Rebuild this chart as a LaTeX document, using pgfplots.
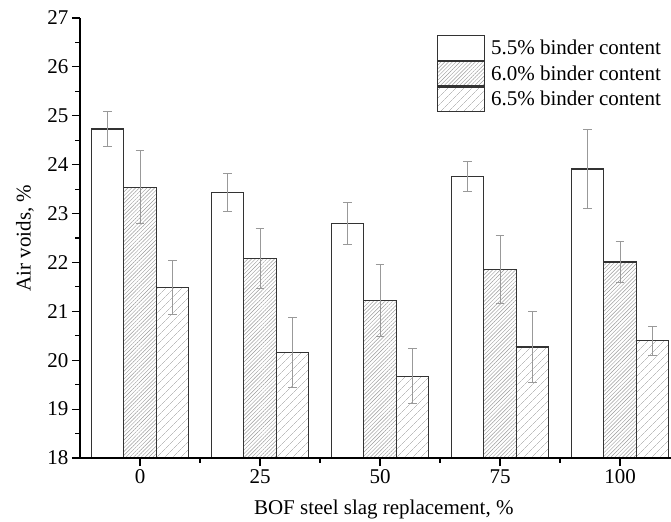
\documentclass[border=0pt]{standalone}
\usepackage{fontspec}
\setmainfont{Liberation Serif}
\usepackage{pgfplots}
\pgfplotsset{compat=1.18}
\usetikzlibrary{patterns.meta}
\definecolor{edge}{HTML}{333333}
\definecolor{errc}{HTML}{999999}
\definecolor{hatch}{HTML}{9A9A9A}
\begin{document}
\begin{tikzpicture}
\useasboundingbox (-80bp,-64bp) rectangle (591bp,458bp);
\begin{axis}[
  at={(0,0)}, anchor=south west,
  scale only axis, width=591bp, height=440bp,
  font=\fontsize{21bp}{25bp}\selectfont,
  /pgf/number format/assume math mode=true,
  xmin=-0.5, xmax=4.425, ymin=18, ymax=27,
  axis x line=bottom, axis y line=left,
  axis line style={-, black, line width=1.2bp},
  xtick={0,1,2,3,4}, xticklabels={0,25,50,75,100},
  ytick={18,19,...,27},
  minor x tick num=1, minor y tick num=1,
  tick align=outside,
  major tick length=8bp, minor tick length=4.5bp,
  tick style={black, line width=1.1bp},
  xlabel={BOF steel slag replacement, \%},
  ylabel={Air voids, \%},
  xlabel style={at={(axis description cs:0.514,-0.118)}, anchor=center},
  ylabel style={at={(axis description cs:-0.093,0.5)}, anchor=center},
  axis on top,
  clip=true,
  ybar, bar width=0.27,
  legend image code/.code={\draw[#1] (0bp,-12.2bp) rectangle (47bp,12.2bp);},
  legend style={draw=none, fill=none, at={(axis description cs:0.604,0.961)}, anchor=north west,
    inner sep=0pt, outer sep=0pt, row sep=0pt, column sep=6bp,
    nodes={inner sep=0pt, anchor=west}, font=\fontsize{21bp}{25bp}\selectfont},
  legend cell align=left,
  error bars/y dir=both, error bars/y explicit,
  error bars/error bar style={errc, line width=1bp},
  error bars/error mark options={rotate=90, mark size=4.3bp, errc, line width=1bp},
]
\addplot[bar shift=-0.27, draw=edge, line width=1.2bp, fill=white,
  error bars/.cd, y dir=both, y explicit]
  coordinates {(0,24.73) +- (0,0.35) (1,23.43) +- (0,0.39) (2,22.80) +- (0,0.43) (3,23.76) +- (0,0.31) (4,23.91) +- (0,0.81)};
\addplot[bar shift=0, draw=edge, line width=1.2bp,
  pattern={Lines[angle=45, distance=2.7bp, line width=0.45bp]}, pattern color=hatch,
  error bars/.cd, y dir=both, y explicit]
  coordinates {(0,23.54) +- (0,0.74) (1,22.08) +- (0,0.62) (2,21.22) +- (0,0.74) (3,21.86) +- (0,0.70) (4,22.01) +- (0,0.42)};
\addplot[bar shift=0.27, draw=edge, line width=1.2bp,
  pattern={Lines[angle=45, distance=6bp, line width=0.5bp]}, pattern color=hatch,
  error bars/.cd, y dir=both, y explicit]
  coordinates {(0,21.48) +- (0,0.55) (1,20.16) +- (0,0.72) (2,19.67) +- (0,0.56) (3,20.27) +- (0,0.72) (4,20.40) +- (0,0.30)};
\legend{5.5\% binder content, 6.0\% binder content, 6.5\% binder content}
\end{axis}
\end{tikzpicture}
\end{document}
